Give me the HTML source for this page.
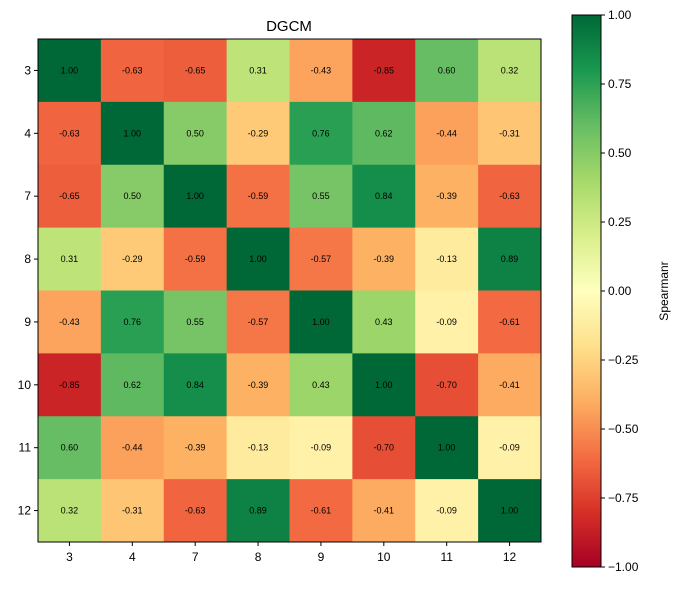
<!DOCTYPE html>
<html><head><meta charset="utf-8">
<style>
body{margin:0;background:#fff;}
svg{font-family:"Liberation Sans","DejaVu Sans",sans-serif;}
</style></head>
<body>
<svg id="chart" width="681" height="585" xmlns="http://www.w3.org/2000/svg">
<text x="289" y="31" font-size="15" text-anchor="middle">DGCM</text>
<g id="cells"></g>
<g id="axes"></g>
<defs><linearGradient id="cbg" x1="0" y1="1" x2="0" y2="0"></linearGradient></defs>
<g id="cbar"></g>
</svg>
<script>
const labels = ["3","4","7","8","9","10","11","12"];
const values = [
 [1.00,-0.63,-0.65,0.31,-0.43,-0.85,0.60,0.32],
 [-0.63,1.00,0.50,-0.29,0.76,0.62,-0.44,-0.31],
 [-0.65,0.50,1.00,-0.59,0.55,0.84,-0.39,-0.63],
 [0.31,-0.29,-0.59,1.00,-0.57,-0.39,-0.13,0.89],
 [-0.43,0.76,0.55,-0.57,1.00,0.43,-0.09,-0.61],
 [-0.85,0.62,0.84,-0.39,0.43,1.00,-0.70,-0.41],
 [0.60,-0.44,-0.39,-0.13,-0.09,-0.70,1.00,-0.09],
 [0.32,-0.31,-0.63,0.89,-0.61,-0.41,-0.09,1.00]
];
const cbTicks = [1.00,0.75,0.50,0.25,0.00,-0.25,-0.50,-0.75,-1.00];
const stops = ["#a50026","#d73027","#f46d43","#fdae61","#fee08b","#ffffbf","#d9ef8b","#a6d96a","#66bd63","#1a9850","#006837"];
const NS="http://www.w3.org/2000/svg";
function hex(h){return [1,3,5].map(i=>parseInt(h.substr(i,2),16));}
function cmap(v){
  let t=(v+1)/2; t=Math.max(0,Math.min(1,t));
  let p=t*(stops.length-1), i=Math.min(Math.floor(p),stops.length-2), f=p-i;
  const a=hex(stops[i]), b=hex(stops[i+1]);
  return "rgb("+a.map((x,k)=>Math.round(x+(b[k]-x)*f)).join(",")+")";
}
function el(tag,attrs,parent){const e=document.createElementNS(NS,tag);for(const k in attrs)e.setAttribute(k,attrs[k]);parent.appendChild(e);return e;}
const X0=38,Y0=39,W=503,H=503,n=labels.length,cw=W/n,ch=H/n;
const xs=i=>X0+i*cw, ys=j=>Y0+j*ch;
const cells=document.getElementById('cells'), axes=document.getElementById('axes');
values.forEach((row,j)=>row.forEach((v,i)=>{
  const r=el('rect',{x:xs(i),y:ys(j),width:cw+0.5,height:ch+0.5,fill:cmap(v)},cells);
  
  
  const t=el('text',{x:xs(i)+cw/2,y:ys(j)+ch/2+3,'font-size':9,'text-anchor':'middle',fill:'#000'},cells);
  t.textContent=v.toFixed(2);
  
  
}));
el('rect',{x:X0,y:Y0,width:W,height:H,fill:'none',stroke:'#000','stroke-width':1},axes);
labels.forEach((l,i)=>{
  el('line',{x1:xs(i)+cw/2,x2:xs(i)+cw/2,y1:Y0+H,y2:Y0+H+4,stroke:'#000'},axes);
  const tx=el('text',{x:xs(i)+cw/2,y:Y0+H+19,'font-size':12,'text-anchor':'middle'},axes);
  tx.textContent=l;
  
  
  el('line',{x1:X0-4,x2:X0,y1:ys(i)+ch/2,y2:ys(i)+ch/2,stroke:'#000'},axes);
  const ty=el('text',{x:X0-7,y:ys(i)+ch/2+4,'font-size':12,'text-anchor':'end'},axes);
  ty.textContent=l;
  
  
});
// colorbar
const g=document.getElementById('cbg');
stops.forEach((c,i)=>el('stop',{offset:(i/(stops.length-1)),'stop-color':c},g));
const cb=document.getElementById('cbar');
const CX=572,CY0=15,CW=29,CH=552;
const cy=v=>CY0+(1-(v+1)/2)*CH;
el('rect',{x:CX,y:CY0,width:CW,height:CH,fill:'url(#cbg)',stroke:'#000','stroke-width':1},cb);
cbTicks.forEach(v=>{
  el('line',{x1:CX+CW,x2:CX+CW+4,y1:cy(v),y2:cy(v),stroke:'#000'},cb);
  const t=el('text',{x:CX+CW+7,y:cy(v)+4,'font-size':12},cb);
  t.textContent=(v<0?"\u2212":"")+Math.abs(v).toFixed(2);
  
  
});
const lab=el('text',{x:668,y:291,'font-size':12,'text-anchor':'middle',transform:'rotate(-90 668 291)'},cb);
lab.textContent="Spearmanr";


</script>
</body></html>
